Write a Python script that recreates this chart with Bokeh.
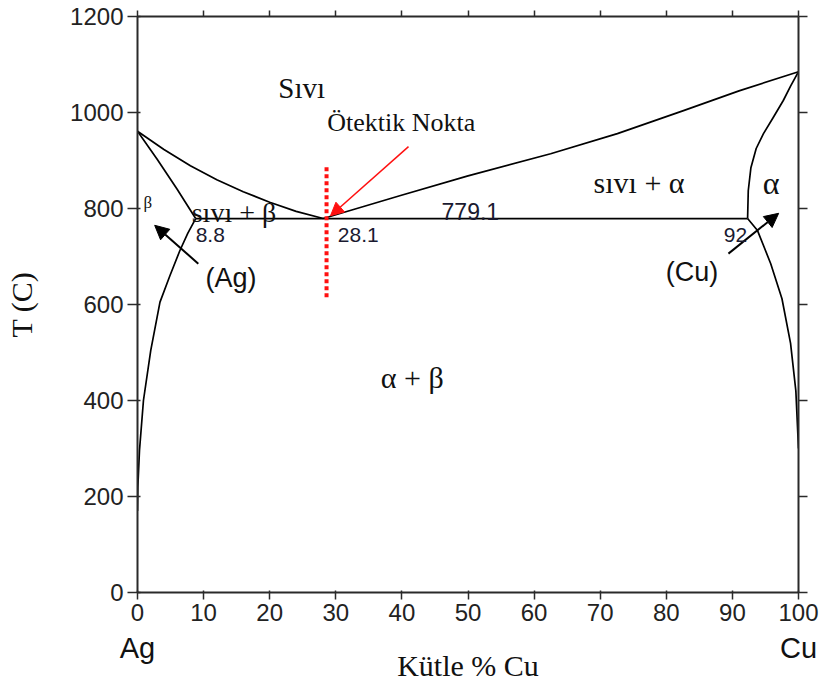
from bokeh.plotting import figure
from bokeh.models import Range1d, LinearAxis, FixedTicker, Label, Arrow, NormalHead
from bokeh.embed import file_html
from bokeh.resources import INLINE

# ---- data (Ag-Cu phase diagram) ----
x_ticks = [0, 10, 20, 30, 40, 50, 60, 70, 80, 90, 100]
y_ticks = [0, 200, 400, 600, 800, 1000, 1200]
end_ticks = [0, 100]
end_labels = ["Ag", "Cu"]

liq_left_x = [0, 4, 8, 12, 16, 20, 24, 28.1]
liq_left_t = [961, 923, 889, 860, 835, 813, 794, 779.1]

sol_left_x = [0, 3, 6, 8.8]
sol_left_t = [961, 902, 840, 779.1]

solv_left_x = [8.8, 7.6, 6.4, 4.9, 3.4, 2.0, 0.9, 0.3, 0.05, 0]
solv_left_t = [779.1, 748, 712, 660, 605, 504, 400, 296, 220, 170]

liq_right_x = [28.1, 39.8, 50, 62.5, 72.6, 82.6, 91, 100]
liq_right_t = [779.1, 827, 868, 914, 956, 1004, 1045, 1085]

sol_right_x = [100, 98.8, 97.7, 96.2, 94.7, 93.6, 92.8, 92.4, 92.3]
sol_right_t = [1085, 1055, 1025, 990, 956, 925, 885, 837, 779.1]

solv_right_x = [92.3, 93.8, 95.8, 97.5, 98.8, 99.6, 100]
solv_right_t = [779.1, 754, 685, 612, 519, 420, 300]

eut_x = [8.8, 92.3]
eut_t = [779.1, 779.1]

eut_marker_x = [28.6, 28.6]
eut_marker_t = [615, 890]

# arrows: (x_start, t_start, x_end, t_end)
arrow_eut = [41.0, 929, 29.2, 785]
arrow_ag = [9.2, 685, 2.6, 765]
arrow_cu = [89.4, 706, 97.0, 790]

# ---- figure ----
p = figure(width=829, height=686, x_range=Range1d(0, 100), y_range=Range1d(0, 1200),
           output_backend="svg", toolbar_location=None,
           min_border_left=137, min_border_right=31, min_border_top=16, min_border_bottom=94)
p.xgrid.visible = False
p.ygrid.visible = False
p.outline_line_color = None
p.background_fill_color = "white"
p.border_fill_color = "white"

axcol = "#2a2a2a"
for ax in [p.xaxis[0], p.yaxis[0]]:
    ax.axis_line_color = axcol
    ax.axis_line_width = 2
    ax.major_tick_line_color = axcol
    ax.major_tick_line_width = 1.5
    ax.minor_tick_line_color = None
    ax.major_label_text_font = "Liberation Sans"
    ax.major_label_text_font_size = "24px"
    ax.major_label_text_color = "#222222"

p.xaxis[0].ticker = FixedTicker(ticks=x_ticks)
p.xaxis[0].major_tick_out = 7
p.xaxis[0].major_tick_in = 2
p.xaxis[0].major_label_standoff = 4

p.yaxis[0].ticker = FixedTicker(ticks=y_ticks)
p.yaxis[0].major_tick_out = 10
p.yaxis[0].major_tick_in = 3
p.yaxis[0].major_label_standoff = 4
p.yaxis[0].axis_label = "T (C)"
p.yaxis[0].axis_label_standoff = 29
p.yaxis[0].axis_label_text_font = "Liberation Serif"
p.yaxis[0].axis_label_text_font_style = "normal"
p.yaxis[0].axis_label_text_font_size = "30px"
p.yaxis[0].axis_label_text_color = "#111111"

# second bottom axis: element names under the ends, and the axis title
elem_ax = LinearAxis(ticker=FixedTicker(ticks=end_ticks),
                     major_label_overrides={t: s for t, s in zip(end_ticks, end_labels)},
                     axis_line_color=None, major_tick_line_color=None, minor_tick_line_color=None,
                     major_label_text_font="Liberation Sans", major_label_text_font_size="29px",
                     major_label_text_color="#111111", major_label_standoff=2,
                     axis_label="Kütle % Cu", axis_label_standoff=-18,
                     axis_label_text_font="Liberation Serif", axis_label_text_font_style="normal",
                     axis_label_text_font_size="30px", axis_label_text_color="#111111")
p.add_layout(elem_ax, "below")

top_ax = LinearAxis(ticker=FixedTicker(ticks=x_ticks),
                    major_label_overrides={t: "" for t in x_ticks},
                    major_label_text_font_size="1px",
                    major_label_standoff=0, major_tick_out=6, major_tick_in=0,
                    axis_line_color=axcol, axis_line_width=2, major_tick_line_color=axcol,
                    major_tick_line_width=1.5, minor_tick_line_color=None)
right_ax = LinearAxis(ticker=FixedTicker(ticks=y_ticks),
                      major_label_overrides={t: "" for t in y_ticks},
                      major_label_text_font_size="1px",
                      major_label_standoff=0, major_tick_out=9, major_tick_in=0,
                      axis_line_color=axcol, axis_line_width=2, major_tick_line_color=axcol,
                      major_tick_line_width=1.5, minor_tick_line_color=None)
p.add_layout(top_ax, "above")
p.add_layout(right_ax, "right")

# ---- phase boundaries ----
lw = 1.7
for xs, ts in [(liq_left_x, liq_left_t), (sol_left_x, sol_left_t), (solv_left_x, solv_left_t),
               (liq_right_x, liq_right_t), (sol_right_x, sol_right_t),
               (solv_right_x, solv_right_t), (eut_x, eut_t)]:
    p.line(xs, ts, line_color="black", line_width=lw, line_join="round")

p.line(eut_marker_x, eut_marker_t, line_color="#ff1010", line_width=4, line_dash="4 3")

# ---- arrows ----
p.add_layout(Arrow(end=NormalHead(size=13, fill_color="#ff1010", line_color="#ff1010"),
                   x_start=arrow_eut[0], y_start=arrow_eut[1], x_end=arrow_eut[2], y_end=arrow_eut[3],
                   line_color="#ff1010", line_width=1.5))
for a in [arrow_ag, arrow_cu]:
    p.add_layout(Arrow(end=NormalHead(size=14, fill_color="black", line_color="black"),
                       x_start=a[0], y_start=a[1], x_end=a[2], y_end=a[3],
                       line_color="black", line_width=2))

# ---- labels ----
def lab(x, y, text, font, size, color="#111111", align="left"):
    p.add_layout(Label(x=x, y=y, text=text, text_font=font, text_font_size=size,
                       text_color=color, text_align=align, text_baseline="alphabetic"))

serif = "Liberation Serif"
sans = "Liberation Sans"
lab(21.3, 1052, "Sıvı", serif, "29px")
lab(28.7, 979, "Ötektik Nokta", serif, "26px")
lab(8.2, 792, "sıvı + β", serif, "28px")
lab(0.9, 812, "β", serif, "17px")
lab(69.0, 854, "sıvı + α", serif, "30px")
lab(94.6, 854, "α", serif, "32px")
lab(36.8, 448, "α + β", serif, "30px")
lab(8.8, 744, "8.8", sans, "21px", "#1a1a30")
lab(30.3, 744, "28.1", sans, "21px", "#1a1a30")
lab(46.0, 794, "779.1", sans, "23px", "#1a1a30")
lab(88.7, 744, "92", sans, "21px", "#1a1a30")
lab(10.3, 656, "(Ag)", sans, "27px")
lab(79.9, 667, "(Cu)", sans, "27px")

open("out.html", "w").write(file_html(p, INLINE))
